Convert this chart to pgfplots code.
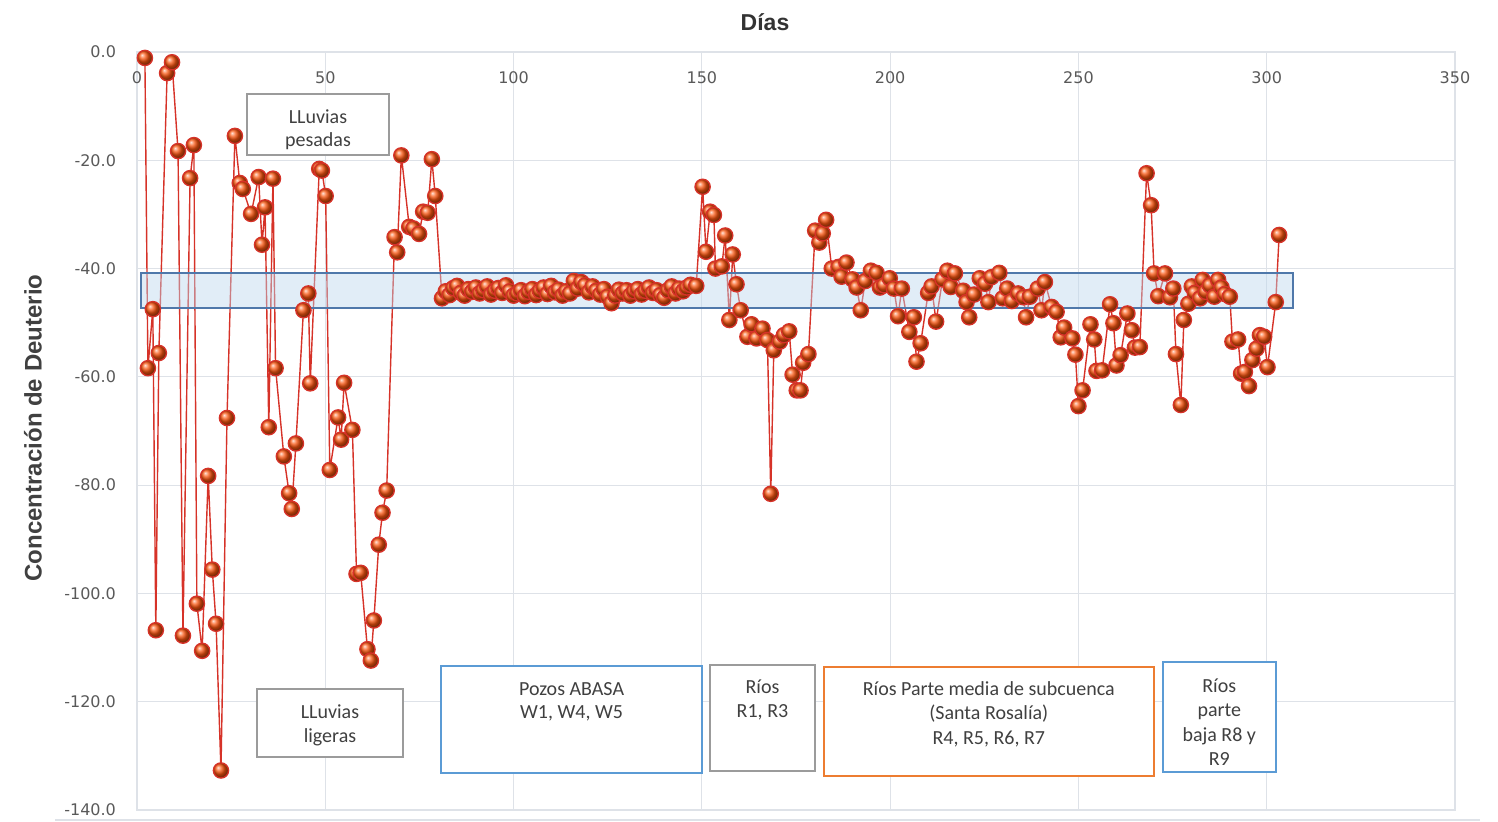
\documentclass[border=0pt]{standalone}
\usepackage{fontspec}
\setmainfont{Liberation Sans}
\newfontfamily\tickfont{DejaVu Sans}
\newfontfamily\boxfont{Carlito}
\usepackage{pgfplots}
\pgfplotsset{compat=1.18}
\definecolor{gridc}{RGB}{222,226,232}
\definecolor{tickc}{RGB}{89,89,89}
\definecolor{linec}{RGB}{214,50,40}
\definecolor{ballc}{RGB}{250,85,15}
\definecolor{bandfill}{RGB}{189,215,238}
\definecolor{bandline}{RGB}{79,120,170}
\definecolor{boxgray}{RGB}{155,155,155}
\definecolor{boxblue}{RGB}{91,155,213}
\definecolor{boxorange}{RGB}{237,125,49}
\definecolor{txt}{RGB}{64,64,64}
\pgfplotstableread{
x y
2.1 -1.1
2.9 -58.4
4.2 -47.5
5.0 -106.8
5.8 -55.6
8.0 -3.9
9.3 -1.9
10.9 -18.3
12.2 -107.8
14.1 -23.3
15.1 -17.2
15.9 -101.9
17.3 -110.6
18.9 -78.3
20.0 -95.6
21.0 -105.6
22.3 -132.7
23.9 -67.6
26.0 -15.5
27.3 -24.2
28.1 -25.3
30.3 -29.9
32.3 -23.1
33.2 -35.6
34.0 -28.7
35.0 -69.3
36.1 -23.4
36.8 -58.4
39.0 -74.7
40.4 -81.5
41.1 -84.4
42.2 -72.3
44.2 -47.7
45.5 -44.6
46.0 -61.2
48.4 -21.6
49.1 -21.9
50.1 -26.6
51.2 -77.2
53.4 -67.5
54.2 -71.6
55.0 -61.1
57.2 -69.8
58.3 -96.4
59.4 -96.2
61.2 -110.3
62.1 -112.4
62.9 -105.0
64.2 -91.0
65.2 -85.1
66.3 -81.0
68.4 -34.2
69.1 -37.0
70.2 -19.1
72.3 -32.3
73.4 -32.6
74.9 -33.6
76.0 -29.5
77.2 -29.7
78.3 -19.8
79.2 -26.6
81 -45.5
82 -44.2
83 -44.9
84 -43.6
85 -43.2
86 -44.5
87 -45.0
88 -43.8
89 -44.3
90 -43.5
91 -44.6
92 -44.0
93 -43.3
94 -44.8
95 -44.1
96 -43.6
97 -44.5
98 -43.1
99 -44.2
100 -45.0
101 -44.6
102 -44.0
103 -45.1
104 -44.3
105 -43.8
106 -44.9
107 -44.1
108 -43.5
109 -44.7
110 -43.2
111 -44.4
112 -43.9
113 -45.0
114 -44.2
115 -44.6
116 -42.3
117 -43.7
118 -42.5
119 -43.1
120 -44.4
121 -43.3
122 -44.1
123 -44.8
124 -43.8
125 -45.2
126 -46.4
127 -45.0
128 -43.9
129 -44.6
130 -44.0
131 -45.0
132 -44.2
133 -43.8
134 -44.8
135 -44.1
136 -43.5
137 -44.5
138 -44.0
139 -44.9
140 -45.4
141 -44.0
142 -43.3
143 -44.6
144 -43.7
145 -44.2
146 -43.5
147 -43.0
148.5 -43.2
150.2 -24.9
151.1 -36.9
152.2 -29.5
153.2 -30.1
153.6 -40.0
155.3 -39.6
156.2 -33.9
157.3 -49.5
158.2 -37.4
159.2 -42.9
160.3 -47.7
162.1 -52.6
163.2 -50.3
164.5 -52.9
166.1 -51.1
167.4 -53.2
168.3 -81.6
169.1 -55.1
170.7 -53.5
171.8 -52.3
173.2 -51.6
174.1 -59.6
175.2 -62.5
176.2 -62.5
176.9 -57.4
178.3 -55.8
180.1 -33.0
181.2 -35.2
182.1 -33.5
183.0 -31.0
184.5 -40.0
186.3 -39.7
187.1 -41.5
188.4 -38.9
190.0 -42.0
191.1 -43.5
192.2 -47.7
193.4 -42.3
194.9 -40.4
196.4 -40.8
197.3 -43.5
198.4 -43.1
199.9 -41.8
201.0 -43.7
202.1 -48.8
203.1 -43.7
205.1 -51.7
206.3 -49.0
207.0 -57.2
208.1 -53.8
210.1 -44.5
211.0 -43.3
212.2 -49.8
213.9 -42.0
215.2 -40.4
216.1 -43.4
217.2 -40.9
219.4 -44.1
220.3 -46.2
221.0 -49.0
222.3 -44.8
223.8 -41.8
225.2 -42.8
226.1 -46.2
226.9 -41.6
229.0 -40.8
229.9 -45.5
231.1 -43.7
232.3 -46.0
234.0 -44.6
235.4 -45.3
236.1 -49.0
237.1 -45.2
239.2 -43.7
240.2 -47.7
241.1 -42.5
242.9 -47.1
244.2 -48.0
245.3 -52.7
246.2 -50.9
248.4 -52.9
249.2 -55.9
250.0 -65.4
251.1 -62.5
253.2 -50.3
254.2 -53.1
254.8 -58.9
256.3 -58.8
258.4 -46.6
259.3 -50.1
260.1 -57.9
261.2 -56.0
263.0 -48.3
264.2 -51.4
265.0 -54.6
266.3 -54.5
268.1 -22.4
269.3 -28.3
270.1 -40.9
271.2 -45.1
273.0 -40.9
274.3 -45.3
275.2 -43.7
275.9 -55.8
277.2 -65.2
278.0 -49.5
279.2 -46.5
280.1 -43.3
280.9 -44.5
282.3 -45.5
283.0 -42.1
283.8 -44.3
284.9 -43.1
286.1 -45.2
287.1 -42.1
288.0 -43.5
288.9 -44.7
290.2 -45.2
290.9 -53.5
292.4 -53.1
293.2 -59.4
294.2 -59.1
295.3 -61.7
296.2 -56.9
297.3 -54.8
298.2 -52.3
299.3 -52.6
300.2 -58.2
302.4 -46.2
303.3 -33.8
}\deuterio
\begin{document}
\begin{tikzpicture}
\useasboundingbox (0,0) rectangle (749pt,411pt);
\draw[gridc, line width=0.6pt] (27.5pt,1pt) -- (740pt,1pt);
\begin{axis}[
  at={(68.5pt,6pt)}, anchor=south west,
  width=659pt, height=379pt, scale only axis,
  xmin=0, xmax=350, ymin=-140, ymax=0,
  xtick={0,50,...,350}, ytick={-140,-120,...,0},
  grid=major, major grid style={gridc, line width=0.6pt},
  axis line style={gridc, line width=0.6pt},
  tick style={draw=none},
  clip=false,
  /pgf/number format/assume math mode=true,
  xticklabel pos=upper,
  xticklabel style={anchor=center, yshift=-13pt, font=\tickfont\fontsize{8}{9}\selectfont, text=tickc},
  yticklabel style={anchor=east, xshift=-7pt, font=\tickfont\fontsize{8}{9}\selectfont, text=tickc,
    /pgf/number format/fixed, /pgf/number format/fixed zerofill, /pgf/number format/precision=1},
]
\addplot[linec, line width=0.7pt, mark=ball, mark size=3.8pt, mark options={ball color=ballc}] table[x=x,y=y] {\deuterio};
\draw[bandline, line width=0.9pt, fill=bandfill, fill opacity=0.45] (axis cs:1.06,-40.82) rectangle (axis cs:306.9,-47.28);
% boxes
\draw[boxgray, line width=1pt, fill=white] (axis cs:29.2,-7.76) rectangle (axis cs:66.9,-19.0);
\draw[boxgray, line width=1pt, fill=white] (axis cs:31.9,-117.7) rectangle (axis cs:70.6,-130.2);
\draw[boxblue, line width=1pt, fill=white] (axis cs:80.7,-113.4) rectangle (axis cs:150.0,-133.2);
\draw[boxgray, line width=1pt, fill=white] (axis cs:152.1,-113.2) rectangle (axis cs:180.0,-132.8);
\draw[boxorange, line width=1pt, fill=white] (axis cs:182.4,-113.6) rectangle (axis cs:270.0,-133.7);
\draw[boxblue, line width=1pt, fill=white] (axis cs:272.4,-112.7) rectangle (axis cs:302.4,-133.0);
\begin{scope}[every node/.style={anchor=mid, font=\boxfont\fontsize{10}{12}\selectfont, text=txt, inner sep=0pt}]
\node at (axis cs:48.06,-12.19) {LLuvias};
\node at (axis cs:48.06,-16.44) {pesadas};
\node at (axis cs:51.25,-122.09) {LLuvias};
\node at (axis cs:51.25,-126.52) {ligeras};
\node at (axis cs:115.4,-117.84) {Pozos ABASA};
\node at (axis cs:115.4,-122.09) {W1, W4, W5};
\node at (axis cs:166.1,-117.47) {Ríos};
\node at (axis cs:166.1,-121.9) {R1, R3};
\node at (axis cs:226.2,-117.84) {Ríos Parte media de subcuenca};
\node at (axis cs:226.2,-122.28) {(Santa Rosalía)};
\node at (axis cs:226.2,-126.89) {R4, R5, R6, R7};
\node at (axis cs:287.4,-117.29) {Ríos};
\node at (axis cs:287.4,-121.72) {parte};
\node at (axis cs:287.4,-126.34) {baja R8 y};
\node at (axis cs:287.4,-130.77) {R9};
\end{scope}
\end{axis}
\node[font=\bfseries\fontsize{11.5}{13}\selectfont, text=black!80] at (382.5pt,400pt) {Días};
\node[font=\bfseries\fontsize{12}{14}\selectfont, text=black!75, rotate=90] at (16.5pt,197pt) {Concentración de Deuterio};
\end{tikzpicture}
\end{document}
